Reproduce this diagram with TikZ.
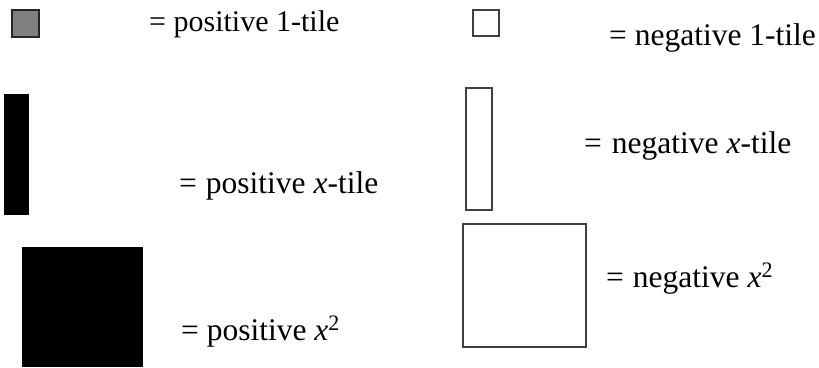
\documentclass[tikz,border=0pt]{standalone}
\usepackage{fontspec}
\setmainfont{Liberation Serif}
\begin{document}
\begin{tikzpicture}[x=1pt,y=-1pt,
  postile/.style={fill=black,draw=none},
  unittile/.style={fill=black!50,draw=black!85,line width=1.3pt},
  negtile/.style={fill=white,draw=black!75,line width=1.1pt},
  lbl/.style={anchor=base west,inner sep=0pt,font=\fontsize{31.5}{38}\selectfont}]
\useasboundingbox (0,0) rectangle (819,367);
% tiles
\path[unittile] (12,10) rectangle (39,37) coordinate (p1);
\path[negtile] (473,10) rectangle (499,36) coordinate (n1);
\path[postile] (4,94) rectangle (29,215) coordinate (px);
\path[negtile] (466,88) rectangle (492,210) coordinate (nx);
\path[postile] (22,247) rectangle (143,367) coordinate (px2);
\path[negtile] (463,224) rectangle (586,347) coordinate (nx2);
% labels
\node[lbl,font=\fontsize{30}{36}\selectfont] (l1) at (149,31) {= positive 1-tile};
\node[lbl] (l2) at (609,45) {= negative 1-tile};
\node[lbl] (l3) at (584,153) {=\hspace{10pt}negative \textit{x}-tile};
\node[lbl] (l4) at (179,193) {=\hspace{9pt}positive \textit{x}-tile};
\node[lbl] (l5) at (181,340) {= positive \textit{x}\textsuperscript{2}};
\node[lbl] (l6) at (606,287) {=\hspace{9pt}negative \textit{x}\textsuperscript{2}};
\end{tikzpicture}
\end{document}
